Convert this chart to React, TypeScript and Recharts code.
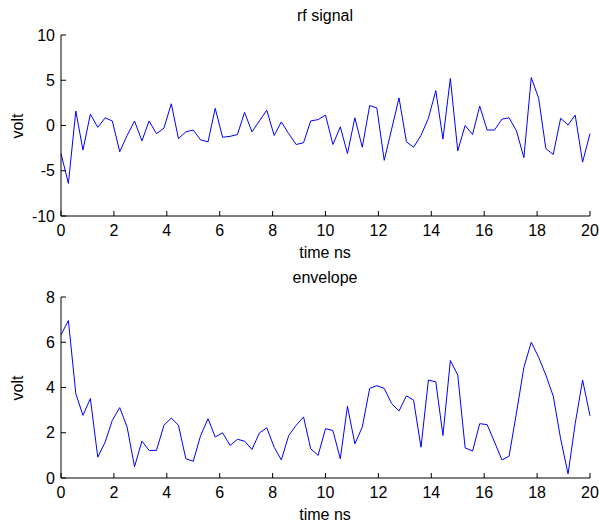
import { Line, LineChart, XAxis, YAxis } from 'recharts'

const time = [
  0, 0.28, 0.56, 0.83, 1.11, 1.39, 1.67, 1.94, 2.22, 2.5, 2.78, 3.06, 3.33, 3.61, 3.89, 4.17, 4.44, 4.72, 5, 5.28,
  5.56, 5.83, 6.11, 6.39, 6.67, 6.94, 7.22, 7.5, 7.78, 8.06, 8.33, 8.61, 8.89, 9.17, 9.44, 9.72, 10, 10.28, 10.56,
  10.83, 11.11, 11.39, 11.67, 11.94, 12.22, 12.5, 12.78, 13.06, 13.33, 13.61, 13.89, 14.17, 14.44, 14.72, 15, 15.28,
  15.56, 15.83, 16.11, 16.39, 16.67, 16.94, 17.22, 17.5, 17.78, 18.06, 18.33, 18.61, 18.89, 19.17, 19.44, 19.72, 20,
]

const rfSignal = [
  -3.1, -6.4, 1.6, -2.7, 1.25, -0.2, 0.85, 0.5, -2.9, -1.1, 0.5, -1.7, 0.5, -0.9, -0.3, 2.4, -1.45, -0.7, -0.5, -1.6,
  -1.8, 1.9, -1.3, -1.2, -1.0, 1.45, -0.7, 0.5, 1.7, -1.1, 0.4, -0.9, -2.1, -1.9, 0.5, 0.65, 1.15, -2.1, -0.15, -3.1,
  0.85, -2.4, 2.2, 1.95, -3.85, -0.4, 3.05, -1.8, -2.4, -1.1, 0.8, 3.85, -1.5, 5.2, -2.8, 0, -1.0, 2.15, -0.5, -0.5,
  0.7, 0.85, -0.6, -3.55, 5.3, 3.0, -2.55, -3.2, 0.8, 0.05, 1.15, -4.05, -0.9,
]

const envelope = [
  6.33, 6.96, 3.73, 2.77, 3.51, 0.92, 1.59, 2.55, 3.11, 2.25, 0.5, 1.63, 1.22, 1.22, 2.33, 2.65, 2.33, 0.85, 0.74, 1.88,
  2.62, 1.81, 2.0, 1.44, 1.71, 1.63, 1.26, 1.99, 2.22, 1.36, 0.8, 1.88, 2.33, 2.7, 1.29, 1.0, 2.18, 2.1, 0.85, 3.17,
  1.51, 2.25, 3.96, 4.08, 3.96, 3.29, 2.96, 3.63, 3.44, 1.36, 4.33, 4.25, 1.88, 5.19, 4.55, 1.33, 1.19, 2.4, 2.36, 1.59,
  0.8, 0.96, 2.88, 4.89, 6.0, 5.33, 4.55, 3.62, 1.73, 0.18, 2.4, 4.33, 2.75,
]

const xTicks = [0, 2, 4, 6, 8, 10, 12, 14, 16, 18, 20]
const rfTicks = [-10, -5, 0, 5, 10]
const envTicks = [0, 2, 4, 6, 8]

const rows = time.map((t, i) => ({ t, rf: rfSignal[i], env: envelope[i] }))

const FONT = "'Liberation Sans', Arial, Helvetica, sans-serif"
const tickStyle = { fill: '#000', fontSize: 16, fontFamily: FONT }

interface PanelProps {
  top: number
  dataKey: string
  domain: [number, number]
  yTicks: number[]
  title: string
}

function Panel({ top, dataKey, domain, yTicks, title }: PanelProps) {
  return (
    <div style={{ position: 'absolute', left: 0, top, width: 599, height: 262 }}>
      <LineChart width={599} height={262} data={rows} margin={{ top: 35, right: 9, bottom: 0, left: 0 }}>
        <XAxis
          dataKey="t"
          type="number"
          domain={[0, 20]}
          ticks={xTicks}
          interval={0}
          height={262 - 35 - 181}
          stroke="#000"
          tickSize={-5}
          tickMargin={14}
          tick={tickStyle}
        />
        <XAxis xAxisId="top" orientation="top" type="number" domain={[0, 20]} ticks={xTicks} height={0} stroke="#000" tickSize={-5} tick={false} />
        <YAxis type="number" domain={domain} ticks={yTicks} interval={0} width={61} stroke="#000" tickSize={-5} tickMargin={11} tick={tickStyle} />
        <YAxis yAxisId="right" orientation="right" type="number" domain={domain} ticks={yTicks} width={0} stroke="#000" tickSize={-5} tick={false} />
        <Line type="linear" dataKey={dataKey} stroke="#0000ff" strokeWidth={1} dot={false} isAnimationActive={false} />
      </LineChart>
      <div style={{ ...textBox, left: 225, top: 8, width: 200 }}>{title}</div>
      <div style={{ ...textBox, left: 225, top: 245, width: 200 }}>time ns</div>
      <div style={{ ...textBox, left: -32, top: 118, width: 100, transform: 'rotate(-90deg)' }}>volt</div>
    </div>
  )
}

const textBox: React.CSSProperties = {
  position: 'absolute',
  fontFamily: FONT,
  fontSize: 16,
  lineHeight: '16px',
  color: '#000',
  textAlign: 'center',
  whiteSpace: 'nowrap',
}

export default function App() {
  return (
    <div style={{ position: 'absolute', left: 0, top: 0, width: 599, height: 524, background: '#fff' }}>
      <Panel top={0} dataKey="rf" domain={[-10, 10]} yTicks={rfTicks} title="rf signal" />
      <Panel top={262} dataKey="env" domain={[0, 8]} yTicks={envTicks} title="envelope" />
    </div>
  )
}
